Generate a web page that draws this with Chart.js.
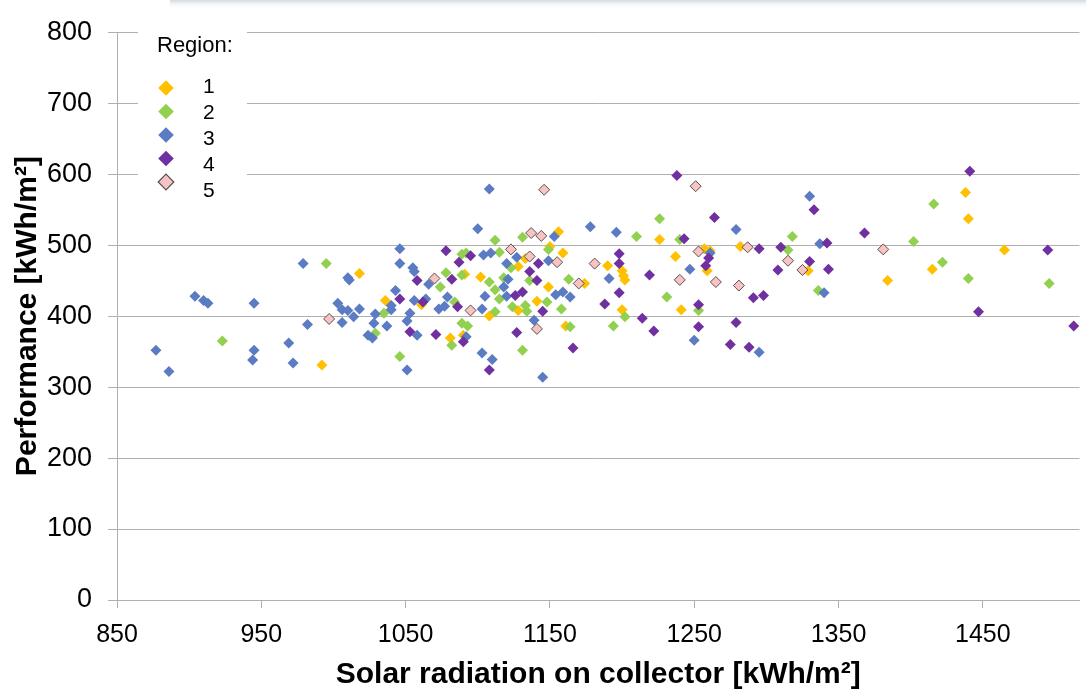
<!DOCTYPE html>
<html lang="en">
<head>
<meta charset="UTF-8">
<title>Performance vs. solar radiation on collector</title>
<script src="https://cdn.jsdelivr.net/npm/chart.js"></script>
<style>
    html, body {
        margin: 0;
        padding: 0;
        background: #fff;
        overflow: hidden;
    }
    canvas { display: block; }
</style>
</head>
<body>
<canvas id="scatter" width="1086" height="693"></canvas>

<script>
// Region names and axis ticks
const regionNames = ['1', '2', '3', '4', '5'];
const xTicks = [850, 950, 1050, 1150, 1250, 1350, 1450];
const yTicks = [0, 100, 200, 300, 400, 500, 600, 700, 800];

// [solar radiation, performance] per region
const region1 = [
    [992, 331], [1018, 460], [1036, 422], [1061, 416], [1081, 369], [1090, 373], [1091, 459],
    [1102, 455], [1108, 400], [1128, 470], [1133, 481], [1128, 408], [1141, 421], [1149, 441],
    [1150, 498], [1156, 519], [1159, 489], [1161, 386], [1174, 446], [1190, 471], [1200, 464],
    [1201, 457], [1202, 451], [1200, 409], [1226, 508], [1237, 484], [1241, 409], [1259, 464],
    [1257, 495], [1261, 492], [1282, 498], [1329, 464], [1384, 450], [1415, 466], [1438, 574],
    [1440, 537], [1465, 493]
];
const region2 = [
    [995, 474], [923, 365], [1074, 441], [1084, 420], [1035, 404], [1029, 376], [1082, 359],
    [1046, 343], [1089, 487], [1092, 489], [1078, 461], [1089, 458], [1112, 507], [1131, 511],
    [1115, 490], [1123, 468], [1108, 448], [1112, 437], [1118, 454], [1136, 450], [1149, 494],
    [1163, 452], [1115, 424], [1112, 406], [1124, 413], [1133, 415], [1134, 407], [1148, 420],
    [1158, 410], [1089, 390], [1093, 386], [1164, 385], [1131, 352], [1226, 537], [1210, 512],
    [1240, 508], [1231, 427], [1253, 408], [1202, 399], [1194, 386], [1318, 512], [1315, 493],
    [1336, 436], [1416, 558], [1402, 505], [1422, 476], [1440, 453], [1496, 446]
];
const region3 = [
    [979, 474], [904, 428], [910, 422], [913, 418], [945, 418], [1003, 418], [1006, 409],
    [982, 388], [1006, 391], [877, 352], [945, 352], [969, 362], [944, 338], [972, 334],
    [886, 322], [1046, 495], [1046, 474], [1055, 468], [1056, 463], [1010, 454], [1011, 451],
    [1066, 445], [1043, 436], [1040, 415], [1040, 409], [1056, 422], [1064, 424], [1079, 427],
    [1073, 410], [1077, 414], [1010, 408], [1014, 399], [1018, 410], [1029, 403], [1028, 390],
    [1037, 386], [1053, 404], [1051, 393], [1058, 373], [1024, 373], [1027, 369], [1051, 324],
    [1108, 579], [1100, 523], [1153, 512], [1178, 526], [1104, 486], [1109, 489], [1120, 474],
    [1127, 483], [1149, 478], [1121, 452], [1118, 441], [1120, 428], [1105, 428], [1103, 410],
    [1154, 430], [1159, 434], [1164, 427], [1139, 394], [1092, 371], [1103, 348], [1110, 339],
    [1145, 314], [1196, 518], [1261, 489], [1247, 466], [1191, 453], [1250, 366], [1330, 569],
    [1279, 522], [1337, 502], [1340, 433], [1295, 349]
];
const region4 = [
    [1078, 492], [1087, 476], [1058, 450], [1082, 452], [1046, 424], [1062, 420], [1086, 413],
    [1053, 378], [1071, 374], [1090, 364], [1095, 485], [1136, 463], [1142, 474], [1141, 450],
    [1126, 429], [1131, 434], [1145, 407], [1127, 377], [1166, 355], [1108, 324], [1264, 539],
    [1243, 509], [1260, 482], [1198, 488], [1198, 474], [1219, 458], [1258, 471], [1198, 433],
    [1188, 417], [1253, 416], [1214, 397], [1222, 379], [1253, 385], [1333, 550], [1295, 495],
    [1310, 497], [1330, 477], [1308, 465], [1291, 426], [1298, 429], [1279, 391], [1275, 360],
    [1288, 356], [1441, 604], [1368, 517], [1342, 503], [1495, 493], [1343, 466], [1447, 406],
    [1513, 386], [1238, 598]
];
const region5 = [
    [997, 396], [1070, 453], [1146, 578], [1137, 517], [1144, 513], [1123, 494], [1136, 484],
    [1155, 476], [1170, 446], [1095, 408], [1141, 382], [1253, 491], [1181, 474], [1240, 451],
    [1287, 497], [1315, 478], [1325, 465], [1265, 448], [1281, 443], [1381, 494], [1251, 583]
];

const regions = [region1, region2, region3, region4, region5];
const regionColors = ['#FFC000', '#92D050', '#5B7BC2', '#7030A0', '#F8C3C3'];
const fontFamily = "'Liberation Sans', Arial, sans-serif";
const gridColor = '#b0b0b0';

Chart.defaults.font.family = fontFamily;
Chart.defaults.color = '#000';

// White page plus the faint slide shadow along the top edge
const topStrip = {
    id: 'topStrip',
    beforeDraw(chart) {
        const ctx = chart.ctx;
        ctx.save();
        ctx.fillStyle = '#fff';
        ctx.fillRect(0, 0, chart.width, chart.height);
        const g = ctx.createLinearGradient(0, 0, 0, 9);
        g.addColorStop(0, 'rgba(170, 180, 195, 0.5)');
        g.addColorStop(1, 'rgba(255, 255, 255, 0)');
        ctx.fillStyle = g;
        ctx.fillRect(170, 0, chart.width - 170, 9);
        ctx.restore();
    }
};

// Legend box in the top-left corner of the plot
const regionLegend = {
    id: 'regionLegend',
    afterDraw(chart) {
        const ctx = chart.ctx;
        ctx.save();
        ctx.fillStyle = '#fff';
        ctx.fillRect(138, 30, 109, 175);
        ctx.fillStyle = '#000';
        ctx.textBaseline = 'middle';
        ctx.textAlign = 'left';
        ctx.font = '22px ' + fontFamily;
        ctx.fillText('Region:', 157, 46);
        chart.data.datasets.forEach((ds, i) => {
            const mx = 166, my = 88 + i * 23.5, r = 7.8;
            ctx.beginPath();
            ctx.moveTo(mx - r, my);
            ctx.lineTo(mx, my - r);
            ctx.lineTo(mx + r, my);
            ctx.lineTo(mx, my + r);
            ctx.closePath();
            ctx.fillStyle = ds.backgroundColor;
            ctx.fill();
            if (ds.borderWidth) {
                ctx.lineWidth = 1.2;
                ctx.strokeStyle = ds.borderColor;
                ctx.stroke();
            }
            ctx.fillStyle = '#000';
            ctx.font = '21px ' + fontFamily;
            ctx.fillText(ds.label, 203, 87 + i * 26);
        });
        ctx.restore();
    }
};

const datasets = regions.map((pts, i) => ({
    label: regionNames[i],
    data: pts.map(([x, y]) => ({ x, y })),
    pointStyle: 'rectRot',
    pointRadius: 5.5,
    backgroundColor: regionColors[i],
    borderColor: i === 4 ? '#5a5050' : regionColors[i],
    borderWidth: i === 4 ? 1 : 0,
    order: 5 - i
}));

new Chart(document.getElementById('scatter').getContext('2d'), {
    type: 'scatter',
    data: { datasets },
    options: {
        responsive: false,
        animation: false,
        events: [],
        devicePixelRatio: 1,
        layout: { padding: { top: 25, right: 0, bottom: 0, left: 0 } },
        plugins: {
            legend: { display: false },
            tooltip: { enabled: false }
        },
        scales: {
            x: {
                type: 'linear',
                min: 850,
                max: 1517,
                afterBuildTicks: s => { s.ticks = xTicks.map(v => ({ value: v })); },
                afterFit: s => { s.height = 93; },
                grid: { drawOnChartArea: false, drawTicks: true, tickLength: 8, color: gridColor },
                border: { color: gridColor },
                ticks: {
                    font: { size: 25 },
                    padding: 12,
                    maxRotation: 0,
                    autoSkip: false,
                    callback: v => String(v)
                },
                title: {
                    display: true,
                    text: 'Solar radiation on collector [kWh/m²]',
                    font: { size: 30, weight: 'bold' },
                    padding: { top: 0, bottom: 0 }
                }
            },
            y: {
                min: 0,
                max: 800,
                afterBuildTicks: s => { s.ticks = yTicks.map(v => ({ value: v })); },
                afterFit: s => { s.width = 117; },
                grid: { color: gridColor, tickLength: 9 },
                border: { color: gridColor },
                ticks: { font: { size: 27 }, padding: 16, callback: v => String(v) },
                title: {
                    display: true,
                    text: 'Performance [kWh/m²]',
                    font: { size: 30, weight: 'bold' },
                    padding: { top: 10, bottom: 0 }
                }
            }
        }
    },
    plugins: [topStrip, regionLegend]
});
</script>
</body>
</html>
